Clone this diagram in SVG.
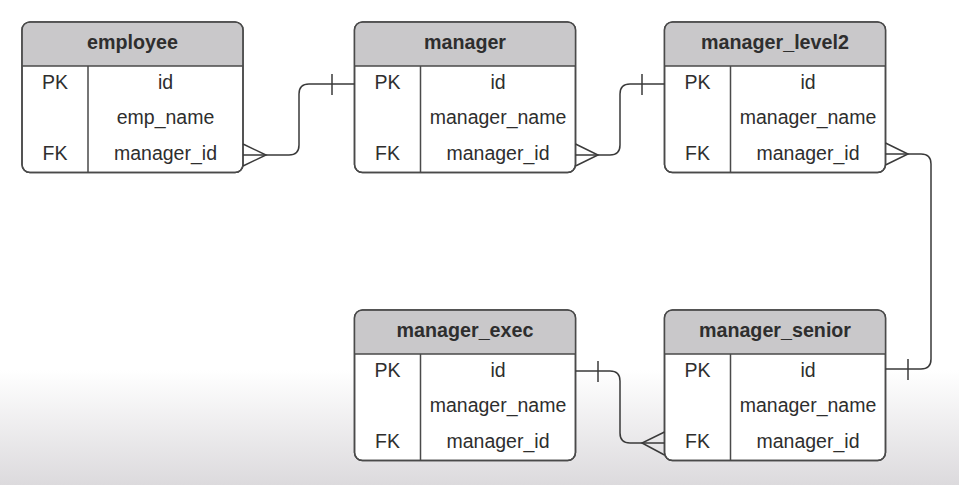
<svg xmlns="http://www.w3.org/2000/svg" width="959" height="485" viewBox="0 0 959 485">
<defs>
<linearGradient id="bg" x1="0" y1="370" x2="0" y2="485" gradientUnits="userSpaceOnUse">
<stop offset="0" stop-color="#ffffff"/>
<stop offset="1" stop-color="#dcdadd"/>
</linearGradient>
<style>
.box{fill:#ffffff;stroke:#4a4a4a;stroke-width:1.5}
.hdr{fill:#c9c8ca}
.ln{stroke:#4a4a4a;stroke-width:1.5;fill:none}
.t{font-family:"Liberation Sans",Arial,sans-serif;font-size:19.5px;fill:#2e2e2e;text-anchor:middle}
.h{font-family:"Liberation Sans",Arial,sans-serif;font-size:19.7px;font-weight:bold;fill:#2e2e2e;text-anchor:middle}
.c{stroke:#3a3a3a;stroke-width:1.5;fill:none}
</style>
</defs>
<rect x="0" y="0" width="959" height="485" fill="url(#bg)"/>

<g id="employee" transform="translate(22,22)">
<rect class="box" x="0" y="0" width="221" height="150.5" rx="8"/>
<path class="hdr" d="M8,0.75 H213 Q220.25,0.75 220.25,8 V44 H0.75 V8 Q0.75,0.75 8,0.75 Z"/>
<rect class="box" x="0" y="0" width="221" height="150.5" rx="8" style="fill:none"/>
<path class="ln" d="M0,44 H221 M66,44 V150.5"/>
<text class="h" x="110.5" y="26.5">employee</text>
<text class="t" x="33" y="67">PK</text><text class="t" x="143.5" y="67">id</text>
<text class="t" x="143.5" y="102">emp_name</text>
<text class="t" x="33" y="137.5">FK</text><text class="t" x="143.5" y="137.5">manager_id</text>
</g>

<g id="manager" transform="translate(354.5,22)">
<rect class="box" x="0" y="0" width="221" height="150.5" rx="8"/>
<path class="hdr" d="M8,0.75 H213 Q220.25,0.75 220.25,8 V44 H0.75 V8 Q0.75,0.75 8,0.75 Z"/>
<rect class="box" x="0" y="0" width="221" height="150.5" rx="8" style="fill:none"/>
<path class="ln" d="M0,44 H221 M66,44 V150.5"/>
<text class="h" x="110.5" y="26.5">manager</text>
<text class="t" x="33" y="67">PK</text><text class="t" x="143.5" y="67">id</text>
<text class="t" x="143.5" y="102">manager_name</text>
<text class="t" x="33" y="137.5">FK</text><text class="t" x="143.5" y="137.5">manager_id</text>
</g>

<g id="manager_level2" transform="translate(664.5,22)">
<rect class="box" x="0" y="0" width="221" height="150.5" rx="8"/>
<path class="hdr" d="M8,0.75 H213 Q220.25,0.75 220.25,8 V44 H0.75 V8 Q0.75,0.75 8,0.75 Z"/>
<rect class="box" x="0" y="0" width="221" height="150.5" rx="8" style="fill:none"/>
<path class="ln" d="M0,44 H221 M66,44 V150.5"/>
<text class="h" x="110.5" y="26.5">manager_level2</text>
<text class="t" x="33" y="67">PK</text><text class="t" x="143.5" y="67">id</text>
<text class="t" x="143.5" y="102">manager_name</text>
<text class="t" x="33" y="137.5">FK</text><text class="t" x="143.5" y="137.5">manager_id</text>
</g>

<g id="manager_exec" transform="translate(354.5,310)">
<rect class="box" x="0" y="0" width="221" height="150.5" rx="8"/>
<path class="hdr" d="M8,0.75 H213 Q220.25,0.75 220.25,8 V44 H0.75 V8 Q0.75,0.75 8,0.75 Z"/>
<rect class="box" x="0" y="0" width="221" height="150.5" rx="8" style="fill:none"/>
<path class="ln" d="M0,44 H221 M66,44 V150.5"/>
<text class="h" x="110.5" y="26.5">manager_exec</text>
<text class="t" x="33" y="67">PK</text><text class="t" x="143.5" y="67">id</text>
<text class="t" x="143.5" y="102">manager_name</text>
<text class="t" x="33" y="137.5">FK</text><text class="t" x="143.5" y="137.5">manager_id</text>
</g>

<g id="manager_senior" transform="translate(664.5,310)">
<rect class="box" x="0" y="0" width="221" height="150.5" rx="8"/>
<path class="hdr" d="M8,0.75 H213 Q220.25,0.75 220.25,8 V44 H0.75 V8 Q0.75,0.75 8,0.75 Z"/>
<rect class="box" x="0" y="0" width="221" height="150.5" rx="8" style="fill:none"/>
<path class="ln" d="M0,44 H221 M66,44 V150.5"/>
<text class="h" x="110.5" y="26.5">manager_senior</text>
<text class="t" x="33" y="67">PK</text><text class="t" x="143.5" y="67">id</text>
<text class="t" x="143.5" y="102">manager_name</text>
<text class="t" x="33" y="137.5">FK</text><text class="t" x="143.5" y="137.5">manager_id</text>
</g>

<g id="connectors">
<path class="c" d="M243,155 H289 Q299,155 299,145 V94 Q299,84 309,84 H354.5"/>
<path class="c" d="M243,144 L266,155 L243,166"/>
<path class="c" d="M332,74 V95"/>

<path class="c" d="M575.5,155 H610 Q620,155 620,145 V94 Q620,84 630,84 H664.5"/>
<path class="c" d="M575.5,144 L598,155 L575.5,166"/>
<path class="c" d="M642,74 V95"/>

<path class="c" d="M885.5,154 H921 Q931,154 931,164 V359 Q931,369 921,369 H885.5"/>
<path class="c" d="M885.5,143 L908,154 L885.5,165"/>
<path class="c" d="M908,359 V380"/>

<path class="c" d="M575.5,371 H610 Q620,371 620,381 V433 Q620,443 630,443 H664.5"/>
<path class="c" d="M664.5,432 L642,443 L664.5,455"/>
<path class="c" d="M598,361 V382"/>
</g>
</svg>
